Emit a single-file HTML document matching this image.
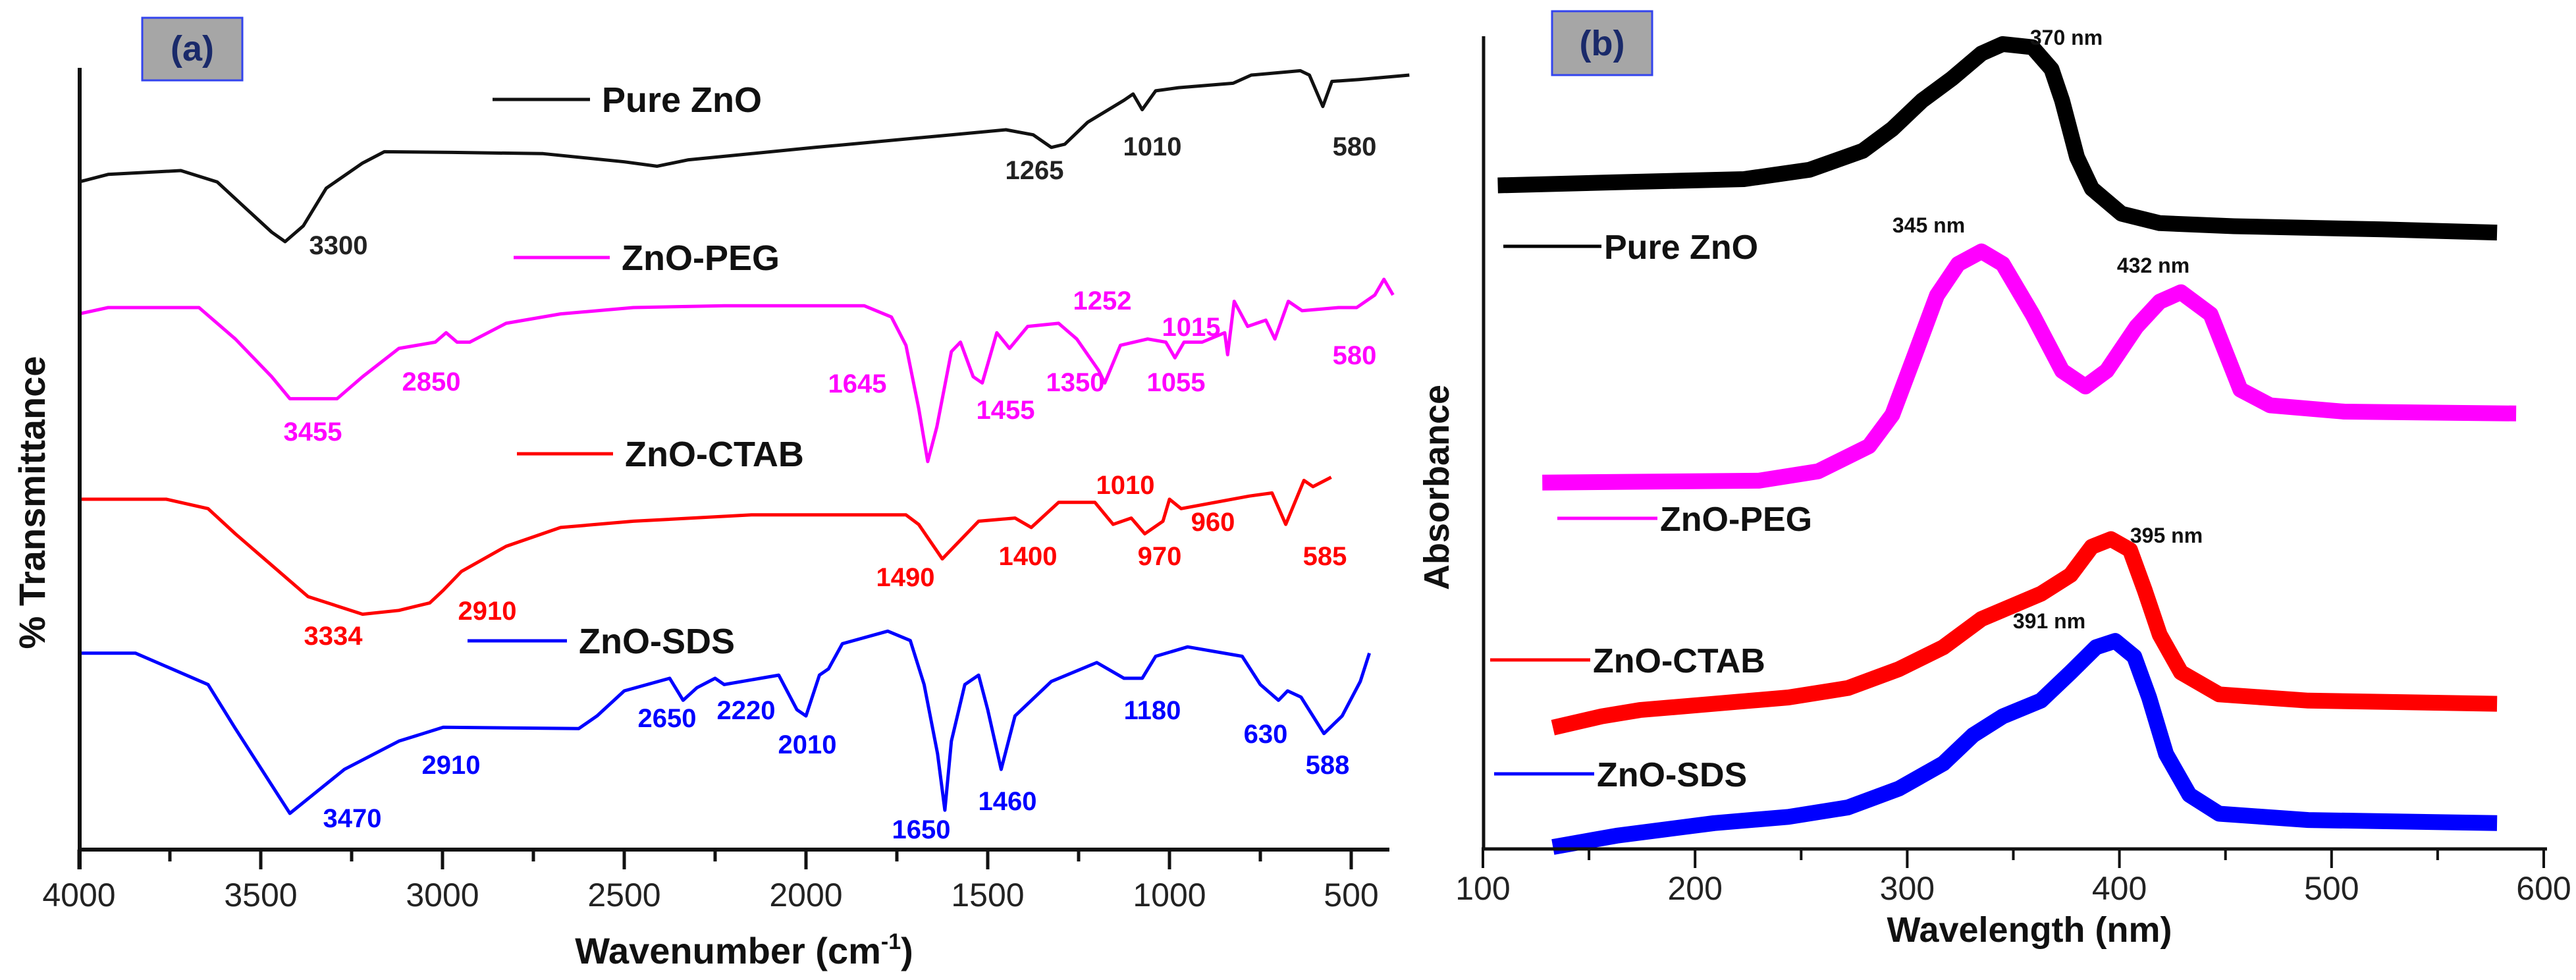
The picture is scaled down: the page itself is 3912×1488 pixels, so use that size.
<!DOCTYPE html>
<html><head><meta charset="utf-8"><style>
html,body{margin:0;padding:0;background:#fff;}
svg{display:block;font-family:"Liberation Sans",sans-serif;}
</style></head><body>
<svg id="chart" width="3912" height="1488" viewBox="0 0 3912 1488" xmlns="http://www.w3.org/2000/svg">
<rect width="3912" height="1488" fill="#fff"/>
<g id="pa"></g>
<g id="pb"></g>
</svg>
<script>
// ---------- Panel (a) FTIR data: wavenumber (cm-1) and transmittance (arb. units, offset) ----------
const pureW=[4000,3920,3720,3620,3545,3470,3433,3383,3320,3220,3160,2973,2723,2500,2410,2325,1975,1600,1450,1375,1325,1288,1225,1125,1100,1075,1038,975,825,775,640,615,578,553,478,340];
const pureT=[1070,1082,1088,1070,1030,990,975,1000,1060,1100,1118,1117,1115,1102,1095,1105,1125,1145,1153,1145,1125,1130,1165,1200,1210,1185,1215,1220,1227,1240,1247,1240,1190,1230,1233,1240];
const pegW=[4000,3920,3670,3570,3470,3420,3290,3220,3120,3020,2990,2960,2925,2825,2675,2475,2225,1840,1765,1725,1690,1665,1640,1600,1575,1540,1515,1475,1440,1390,1305,1255,1195,1178,1135,1060,1010,985,960,910,848,840,822,785,735,710,673,635,535,485,435,410,385];
const pegT=[860,870,870,820,760,725,725,760,805,815,830,815,815,845,860,870,873,873,855,810,710,625,680,800,815,760,750,830,805,840,845,820,770,750,810,820,815,790,815,815,830,795,880,840,850,820,880,865,870,870,890,915,890];
const ctabW=[4000,3760,3645,3570,3470,3370,3220,3120,3035,2998,2948,2825,2675,2475,2150,1725,1690,1625,1575,1525,1425,1380,1305,1205,1155,1105,1068,1018,1000,968,780,718,680,630,605,555];
const ctabT=[565,565,550,510,460,410,382,388,400,420,450,490,520,530,540,540,525,470,500,530,535,520,560,560,525,535,510,530,565,550,570,575,525,595,585,600];
const sdsW=[4000,3845,3645,3570,3470,3420,3345,3270,3120,2998,2625,2575,2500,2375,2338,2300,2250,2225,2075,2025,2000,1963,1938,1900,1775,1713,1675,1638,1618,1600,1563,1525,1500,1463,1425,1325,1200,1125,1075,1038,950,800,750,700,675,638,575,525,475,450];
const sdsT=[320,320,270,200,110,65,100,135,180,202,200,220,260,280,245,265,280,270,285,230,220,285,295,335,355,340,270,160,70,180,270,285,230,135,220,275,305,280,280,315,330,315,270,245,260,250,192,220,275,320];
const ftirTicks=[4000,3500,3000,2500,2000,1500,1000,500];
const ftirTickLabels=["4000","3500","3000","2500","2000","1500","1000","500"];
const ftirPeaks=[
 ["3300",3300,"#222",514,372],["1265",1265,"#222",1571,258],["1010",1010,"#222",1750,222],["580",580,"#222",2057,222],
 ["2850",2850,"#ff00ff",655,579],["3455",3455,"#ff00ff",475,655],["1645",1645,"#ff00ff",1302,582],["1455",1455,"#ff00ff",1527,622],["1350",1350,"#ff00ff",1633,580],["1252",1252,"#ff00ff",1674,456],["1015",1015,"#ff00ff",1809,496],["1055",1055,"#ff00ff",1786,580],["580",580,"#ff00ff",2057,539],
 ["1010",1010,"#ff0000",1709,736],["960",960,"#ff0000",1842,792],["970",970,"#ff0000",1761,844],["1400",1400,"#ff0000",1561,844],["1490",1490,"#ff0000",1375,876],["585",585,"#ff0000",2012,844],["3334",3334,"#ff0000",506,965],["2910",2910,"#ff0000",740,927],
 ["2910",2910,"#0000ff",685,1161],["3470",3470,"#0000ff",535,1242],["2650",2650,"#0000ff",1013,1090],["2220",2220,"#0000ff",1133,1078],["2010",2010,"#0000ff",1226,1130],["1650",1650,"#0000ff",1399,1259],["1460",1460,"#0000ff",1530,1216],["1180",1180,"#0000ff",1750,1078],["630",630,"#0000ff",1922,1114],["588",588,"#0000ff",2016,1161]
];
// ---------- Panel (b) UV-vis data: wavelength (nm), absorbance (arb. units, offset) ----------
const pureNm=[107,163,223,254,279,293,307,321,335,345,359,368,373,380,387,401,419,454,524,578];
const pureA=[1055,1060,1065,1080,1110,1145,1190,1225,1265,1280,1275,1240,1190,1100,1050,1010,995,990,985,980];
const pegNm=[128,230,258,282,293,303,314,324,335,345,359,373,384,394,408,419,429,443,450,457,471,506,587];
const pegA=[582,585,600,640,690,780,880,930,950,930,850,760,735,760,830,870,885,850,790,730,705,695,692];
const ctabNm=[133,156,174,209,244,272,296,317,335,349,363,377,387,396,405,412,419,429,447,489,578];
const ctabA=[192,210,220,230,240,255,285,320,365,385,405,435,480,492,475,410,340,280,245,235,230];
const sdsNm=[133,163,209,244,272,296,317,331,345,363,377,389,398,407,414,422,433,447,489,578];
const sdsA=[2,20,40,50,65,95,135,180,210,235,280,320,330,305,240,150,85,55,45,40];
const uvTicks=[100,200,300,400,500,600];
const uvTickLabels=["100","200","300","400","500","600"];
const uvPeaks=[["370 nm",3138,57],["345 nm",2929,342],["432 nm",3270,403],["395 nm",3290,813],["391 nm",3112,943]];

const NS="http://www.w3.org/2000/svg";
function mk(parent,tag,attrs,text){const e=document.createElementNS(NS,tag);for(const k in attrs)e.setAttribute(k,attrs[k]);if(text!==undefined)e.textContent=text;parent.appendChild(e);return e;}

const ax=w=>120+(4000-w)/500*276;
const ay=t=>1297-t*0.954;
const bx=n=>2252+(n-100)*3.222;
const by=a=>1288-a*0.954;

const pa=document.getElementById('pa');
const pb=document.getElementById('pb');

function series(parent,xs,ys,fx,fy,color,width,name){
  let d='';for(let i=0;i<xs.length;i++){d+=(i?'L':'M')+fx(xs[i]).toFixed(1)+' '+fy(ys[i]).toFixed(1);}
  const p=mk(parent,'path',{d:d,fill:'none',stroke:color,'stroke-width':width,'stroke-linejoin':'round','stroke-linecap':'butt'});
  
  
}

series(pa,pureW,pureT,ax,ay,'#111',5,'pure-zno-ftir-line');
series(pa,pegW,pegT,ax,ay,'#ff00ff',5,'zno-peg-ftir-line');
series(pa,ctabW,ctabT,ax,ay,'#ff0000',5,'zno-ctab-ftir-line');
series(pa,sdsW,sdsT,ax,ay,'#0000ff',5,'zno-sds-ftir-line');
let e;
e=mk(pa,'line',{x1:121,y1:103,x2:121,y2:1320,stroke:'#111','stroke-width':6});

e=mk(pa,'line',{x1:118,y1:1290,x2:2110,y2:1290,stroke:'#111','stroke-width':6});

for(let w=4000;w>=500;w-=250){
  const major=w%500===0;
  e=mk(pa,'line',{x1:ax(w),y1:1290,x2:ax(w),y2:major?1320:1308,stroke:'#111','stroke-width':5});
  
}
ftirTicks.forEach((w,i)=>{
  e=mk(pa,'text',{x:ax(w),y:1376,'text-anchor':'middle','font-size':50,fill:'#222'},ftirTickLabels[i]);
  
});
e=mk(pa,'text',{x:1130,y:1463,'text-anchor':'middle','font-size':56,'font-weight':'bold',fill:'#111'});

e.innerHTML='Wavenumber (cm<tspan font-size="34" dy="-22">-1</tspan><tspan dy="22">)</tspan>';
e=mk(pa,'text',{x:0,y:0,'text-anchor':'middle','font-size':56,'font-weight':'bold',fill:'#111',transform:'translate(68,763) rotate(-90)'},'% Transmittance');

e=mk(pa,'rect',{x:216,y:27,width:152,height:95,fill:'#a6a6a6',stroke:'#3344ee','stroke-width':3});

e=mk(pa,'text',{x:292,y:92,'text-anchor':'middle','font-size':54,'font-weight':'bold',fill:'#1a2a6a'},'(a)');

const legA=[["Pure ZnO",'#111',748,896,151],["ZnO-PEG",'#ff00ff',780,926,391],["ZnO-CTAB",'#ff0000',785,931,689],["ZnO-SDS",'#0000ff',710,861,973]];
legA.forEach(l=>{
  e=mk(pa,'line',{x1:l[2],y1:l[4],x2:l[3],y2:l[4],stroke:l[1],'stroke-width':5});
  
  e=mk(pa,'text',{x:l[3]+18,y:l[4]+19,'font-size':54,'font-weight':'bold',fill:'#111'},l[0]);
  
});
ftirPeaks.forEach(p=>{
  e=mk(pa,'text',{x:p[3],y:p[4]+14,'text-anchor':'middle','font-size':40,'font-weight':'bold',fill:p[2]},p[0]);
  
});

series(pb,pureNm,pureA,bx,by,'#000',24,'pure-zno-uv-line');
series(pb,pegNm,pegA,bx,by,'#ff00ff',24,'zno-peg-uv-line');
series(pb,ctabNm,ctabA,bx,by,'#ff0000',24,'zno-ctab-uv-line');
series(pb,sdsNm,sdsA,bx,by,'#0000ff',24,'zno-sds-uv-line');
e=mk(pb,'line',{x1:2253,y1:55,x2:2253,y2:1290,stroke:'#111','stroke-width':5});

e=mk(pb,'line',{x1:2250,y1:1289,x2:3868,y2:1289,stroke:'#111','stroke-width':5});

for(let n=100;n<=600;n+=50){
  const major=n%100===0;
  e=mk(pb,'line',{x1:bx(n),y1:1289,x2:bx(n),y2:major?1318:1306,stroke:'#111','stroke-width':4});
  
}
uvTicks.forEach((n,i)=>{
  e=mk(pb,'text',{x:bx(n),y:1366,'text-anchor':'middle','font-size':50,fill:'#222'},uvTickLabels[i]);
  
});
e=mk(pb,'text',{x:3082,y:1430,'text-anchor':'middle','font-size':54,'font-weight':'bold',fill:'#111'},'Wavelength (nm)');

e=mk(pb,'text',{x:0,y:0,'text-anchor':'middle','font-size':54,'font-weight':'bold',fill:'#111',transform:'translate(2200,740) rotate(-90)'},'Absorbance');

e=mk(pb,'rect',{x:2357,y:17,width:152,height:97,fill:'#a6a6a6',stroke:'#3344ee','stroke-width':3});

e=mk(pb,'text',{x:2433,y:84,'text-anchor':'middle','font-size':54,'font-weight':'bold',fill:'#1a2a6a'},'(b)');

const legB=[["Pure ZnO",'#000',2283,2432,374],["ZnO-PEG",'#ff00ff',2365,2517,787],["ZnO-CTAB",'#ff0000',2263,2415,1002],["ZnO-SDS",'#0000ff',2269,2421,1175]];
legB.forEach(l=>{
  e=mk(pb,'line',{x1:l[2],y1:l[4],x2:l[3],y2:l[4],stroke:l[1],'stroke-width':5});
  
  e=mk(pb,'text',{x:l[3]+4,y:l[4]+19,'font-size':52,'font-weight':'bold',fill:'#111'},l[0]);
  
});
uvPeaks.forEach(p=>{
  e=mk(pb,'text',{x:p[1],y:p[2]+11,'text-anchor':'middle','font-size':32,'font-weight':'bold',fill:'#111'},p[0]);
  
});
</script>
</body></html>
